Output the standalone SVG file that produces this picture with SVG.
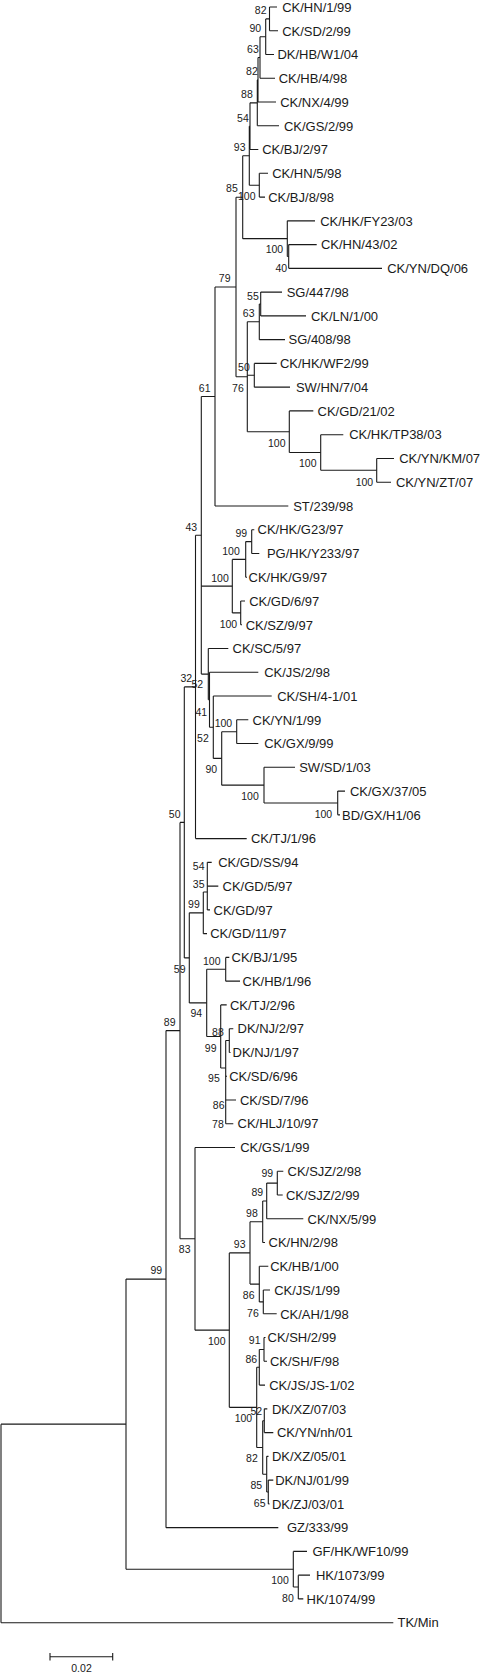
<svg xmlns="http://www.w3.org/2000/svg" width="481" height="1675" viewBox="0 0 481 1675">
<style>
.br{fill:none;stroke:#1a1a1a;stroke-width:1.1}
.lf{font-family:"Liberation Sans",Arial,sans-serif;font-size:13px;fill:#1a1a1a}
.bs{font-family:"Liberation Sans",Arial,sans-serif;font-size:10.5px;fill:#1a1a1a;text-anchor:end}
</style>
<rect width="481" height="1675" fill="#fff"/>
<g id="connectors" class="br">
<path d="M1 1424.15V1622.68M126 1279.1V1569.2M293.3 1551.4V1587.04M298.3 1575.16V1598.92M166 1030.6V1527.64M180 822.4V1238.8M195 1147.48V1330.13M229.3 1252.9V1407.36M250 1221.73V1284.1M262.7 1200.94V1242.52M266.7 1183.12V1218.76M277.3 1171.24V1195M259.3 1266.28V1301.92M263.3 1290.04V1313.8M256.7 1367.26V1447.45M259.3 1349.44V1385.08M264 1337.56V1361.32M262.7 1420.72V1474.18M264.3 1408.84V1432.6M266.7 1456.36V1492M268.3 1480.12V1503.88M184.3 686.9V957.9M189.3 912.85V1002.9M203.3 892.06V933.64M207.3 862.36V909.88M206.7 969.28V1036.5M225.7 957.4V981.16M220.7 1004.92V1068M225.7 1040.56V1123.72M229.3 1028.68V1052.44M195.5 535.3V838.6M201.3 396.5V674.1M208.3 648.52V699.7M209.5 672.28V727.2M213.3 696.04V758.41M221.7 731.68V785.14M236.7 719.8V743.56M264 767.32V802.96M337.7 791.08V814.84M232.3 559.42V612.88M245.7 541.6V577.24M251.7 529.72V553.48M240.7 601V624.76M215 287V505.96M236 197.2V376.8M247.3 321.82V431.71M259.3 304V339.64M260.7 292.12V315.88M254.3 363.4V387.16M289.3 410.92V452.5M320.7 434.68V470.32M376.7 458.44V482.2M242.7 155.7V238.66M287.3 220.84V256.48M288.7 244.6V268.36M249.3 126.2V185.2M259.3 173.32V197.08M250 102.85V149.56M257.3 79.9V125.8M258 57.49V102.04M260 36.7V78.28M265.7 18.88V54.52M269.5 7V30.76"/>
<path d="M1 1424.15H126M1 1622.68H393.3M126 1279.1H166M126 1569.2H293.3M293.3 1551.4H307M293.3 1587.04H298.3M298.3 1575.16H310M298.3 1598.92H303.3M166 1030.6H180M166 1527.64H278.3M180 822.4H184.3M180 1238.8H195M195 1147.48H235M195 1330.13H229.3M229.3 1252.9H250M229.3 1407.36H256.7M250 1221.73H262.7M250 1284.1H259.3M262.7 1200.94H266.7M262.7 1242.52H265M266.7 1183.12H277.3M266.7 1218.76H303.3M277.3 1171.24H283.3M277.3 1195H282.7M259.3 1266.28H268.3M259.3 1301.92H263.3M263.3 1290.04H270M263.3 1313.8H276.7M256.7 1367.26H259.3M256.7 1447.45H262.7M259.3 1349.44H264M259.3 1385.08H265M264 1337.56H265.5M264 1361.32H267M262.7 1420.72H264.3M262.7 1474.18H266.7M264.3 1408.84H267.3M264.3 1432.6H273.3M266.7 1456.36H268.5M266.7 1492H268.3M268.3 1480.12H273.3M268.3 1503.88H269.5M184.3 686.9H195.5M184.3 957.9H189.3M189.3 912.85H203.3M189.3 1002.9H206.7M203.3 892.06H207.3M203.3 933.64H207M207.3 862.36H211.7M207.3 886.12H218.3M207.3 909.88H210M206.7 969.28H225.7M206.7 1036.5H220.7M225.7 957.4H229.3M225.7 981.16H240M220.7 1004.92H226.7M220.7 1068H225.7M225.7 1040.56H229.3M225.7 1076.2H227M225.7 1099.96H236M225.7 1123.72H233.3M229.3 1028.68H233.3M229.3 1052.44H230.5M195.5 535.3H201.3M195.5 838.6H246.7M201.3 396.5H215M201.3 586.15H232.3M201.3 674.1H208.3M208.3 648.52H228.3M208.3 699.7H209.5M209.5 672.28H258.3M209.5 727.2H213.3M213.3 696.04H271.7M213.3 758.41H221.7M221.7 731.68H236.7M221.7 785.14H264M236.7 719.8H248.3M236.7 743.56H258.3M264 767.32H295M264 802.96H337.7M337.7 791.08H345M337.7 814.84H340M232.3 559.42H245.7M232.3 612.88H240.7M245.7 541.6H251.7M245.7 577.24H247M251.7 529.72H254.3M251.7 553.48H259.3M240.7 601H245M240.7 624.76H242M215 287H236M215 505.96H288.3M236 197.2H242.7M236 376.8H247.3M247.3 321.82H259.3M247.3 375.28H254.3M247.3 431.71H289.3M259.3 304H260.7M259.3 339.64H285M260.7 292.12H282M260.7 315.88H306M254.3 363.4H276.7M254.3 387.16H290M289.3 410.92H313.3M289.3 452.5H320.7M320.7 434.68H343.3M320.7 470.32H376.7M376.7 458.44H394M376.7 482.2H391M242.7 155.7H249.3M242.7 238.66H287.3M287.3 220.84H315M287.3 256.48H288.7M288.7 244.6H316.7M288.7 268.36H382M249.3 126.2H250M249.3 185.2H259.3M259.3 173.32H268M259.3 197.08H265M250 102.85H257.3M250 149.56H258.3M257.3 79.9H258M257.3 125.8H279M258 57.49H260M258 102.04H276M260 36.7H265.7M260 78.28H275M265.7 18.88H269.5M265.7 54.52H274M269.5 7H277M269.5 30.76H278"/>
</g>
<g id="leaves" class="lf">
<g id="leaf-1"><text x="282.2" y="11.7">CK/HN/1/99</text></g>
<g id="leaf-2"><text x="282.2" y="35.5">CK/SD/2/99</text></g>
<g id="leaf-3"><text x="277.4" y="59.2">DK/HB/W1/04</text></g>
<g id="leaf-4"><text x="278.7" y="83">CK/HB/4/98</text></g>
<g id="leaf-5"><text x="280.2" y="106.7">CK/NX/4/99</text></g>
<g id="leaf-6"><text x="283.9" y="130.5">CK/GS/2/99</text></g>
<g id="leaf-7"><text x="262.2" y="154.3">CK/BJ/2/97</text></g>
<g id="leaf-8"><text x="272.2" y="178">CK/HN/5/98</text></g>
<g id="leaf-9"><text x="268.2" y="201.8">CK/BJ/8/98</text></g>
<g id="leaf-10"><text x="320.2" y="225.5">CK/HK/FY23/03</text></g>
<g id="leaf-11"><text x="320.9" y="249.3">CK/HN/43/02</text></g>
<g id="leaf-12"><text x="387.2" y="273.1">CK/YN/DQ/06</text></g>
<g id="leaf-13"><text x="286.7" y="296.8">SG/447/98</text></g>
<g id="leaf-14"><text x="310.9" y="320.6">CK/LN/1/00</text></g>
<g id="leaf-15"><text x="288.5" y="344.3">SG/408/98</text></g>
<g id="leaf-16"><text x="279.9" y="368.1">CK/HK/WF2/99</text></g>
<g id="leaf-17"><text x="295.9" y="391.9">SW/HN/7/04</text></g>
<g id="leaf-18"><text x="317.5" y="415.6">CK/GD/21/02</text></g>
<g id="leaf-19"><text x="349.2" y="439.4">CK/HK/TP38/03</text></g>
<g id="leaf-20"><text x="399.2" y="463.1">CK/YN/KM/07</text></g>
<g id="leaf-21"><text x="395.9" y="486.9">CK/YN/ZT/07</text></g>
<g id="leaf-22"><text x="293.2" y="510.7">ST/239/98</text></g>
<g id="leaf-23"><text x="257.5" y="534.4">CK/HK/G23/97</text></g>
<g id="leaf-24"><text x="266.9" y="558.2">PG/HK/Y233/97</text></g>
<g id="leaf-25"><text x="248.5" y="581.9">CK/HK/G9/97</text></g>
<g id="leaf-26"><text x="249.2" y="605.7">CK/GD/6/97</text></g>
<g id="leaf-27"><text x="245.7" y="629.5">CK/SZ/9/97</text></g>
<g id="leaf-28"><text x="232.5" y="653.2">CK/SC/5/97</text></g>
<g id="leaf-29"><text x="264.2" y="677">CK/JS/2/98</text></g>
<g id="leaf-30"><text x="277.2" y="700.7">CK/SH/4-1/01</text></g>
<g id="leaf-31"><text x="252.5" y="724.5">CK/YN/1/99</text></g>
<g id="leaf-32"><text x="264.2" y="748.3">CK/GX/9/99</text></g>
<g id="leaf-33"><text x="299.2" y="772">SW/SD/1/03</text></g>
<g id="leaf-34"><text x="349.9" y="795.8">CK/GX/37/05</text></g>
<g id="leaf-35"><text x="342" y="819.5">BD/GX/H1/06</text></g>
<g id="leaf-36"><text x="250.9" y="843.3">CK/TJ/1/96</text></g>
<g id="leaf-37"><text x="218.2" y="867.1">CK/GD/SS/94</text></g>
<g id="leaf-38"><text x="222.5" y="890.8">CK/GD/5/97</text></g>
<g id="leaf-39"><text x="213.5" y="914.6">CK/GD/97</text></g>
<g id="leaf-40"><text x="210.2" y="938.3">CK/GD/11/97</text></g>
<g id="leaf-41"><text x="231.5" y="962.1">CK/BJ/1/95</text></g>
<g id="leaf-42"><text x="242.5" y="985.9">CK/HB/1/96</text></g>
<g id="leaf-43"><text x="229.9" y="1009.6">CK/TJ/2/96</text></g>
<g id="leaf-44"><text x="237.5" y="1033.4">DK/NJ/2/97</text></g>
<g id="leaf-45"><text x="232.5" y="1057.1">DK/NJ/1/97</text></g>
<g id="leaf-46"><text x="229.2" y="1080.9">CK/SD/6/96</text></g>
<g id="leaf-47"><text x="239.9" y="1104.7">CK/SD/7/96</text></g>
<g id="leaf-48"><text x="237.5" y="1128.4">CK/HLJ/10/97</text></g>
<g id="leaf-49"><text x="240.2" y="1152.2">CK/GS/1/99</text></g>
<g id="leaf-50"><text x="287.5" y="1175.9">CK/SJZ/2/98</text></g>
<g id="leaf-51"><text x="285.9" y="1199.7">CK/SJZ/2/99</text></g>
<g id="leaf-52"><text x="307.5" y="1223.5">CK/NX/5/99</text></g>
<g id="leaf-53"><text x="268.5" y="1247.2">CK/HN/2/98</text></g>
<g id="leaf-54"><text x="270.2" y="1271">CK/HB/1/00</text></g>
<g id="leaf-55"><text x="274.2" y="1294.7">CK/JS/1/99</text></g>
<g id="leaf-56"><text x="280.2" y="1318.5">CK/AH/1/98</text></g>
<g id="leaf-57"><text x="267.5" y="1342.3">CK/SH/2/99</text></g>
<g id="leaf-58"><text x="269.9" y="1366">CK/SH/F/98</text></g>
<g id="leaf-59"><text x="269.2" y="1389.8">CK/JS/JS-1/02</text></g>
<g id="leaf-60"><text x="271.9" y="1413.5">DK/XZ/07/03</text></g>
<g id="leaf-61"><text x="276.9" y="1437.3">CK/YN/nh/01</text></g>
<g id="leaf-62"><text x="271.9" y="1461.1">DK/XZ/05/01</text></g>
<g id="leaf-63"><text x="275.2" y="1484.8">DK/NJ/01/99</text></g>
<g id="leaf-64"><text x="271.9" y="1508.6">DK/ZJ/03/01</text></g>
<g id="leaf-65"><text x="286.9" y="1532.3">GZ/333/99</text></g>
<g id="leaf-66"><text x="312.5" y="1556.1">GF/HK/WF10/99</text></g>
<g id="leaf-67"><text x="315.9" y="1579.9">HK/1073/99</text></g>
<g id="leaf-68"><text x="306.5" y="1603.6">HK/1074/99</text></g>
<g id="leaf-69"><text x="397.5" y="1627.4">TK/Min</text></g>
</g>
<g id="bootstrap" class="bs">
<text x="266.5" y="13.8">82</text>
<text x="261.2" y="31.8">90</text>
<text x="258.8" y="52.8">63</text>
<text x="257.8" y="74.8">82</text>
<text x="252.8" y="97.8">88</text>
<text x="248.8" y="121.8">54</text>
<text x="245.5" y="150.5">93</text>
<text x="237.8" y="192.1">85</text>
<text x="255.5" y="199.8">100</text>
<text x="283.2" y="253.1">100</text>
<text x="287.2" y="271.5">40</text>
<text x="230.5" y="281.5">79</text>
<text x="258.8" y="299.5">55</text>
<text x="254.5" y="317.1">63</text>
<text x="249.8" y="370.5">50</text>
<text x="210.5" y="391.5">61</text>
<text x="243.8" y="391.5">76</text>
<text x="285.5" y="447.1">100</text>
<text x="316.5" y="467.1">100</text>
<text x="373.2" y="485.5">100</text>
<text x="197.2" y="530.5">43</text>
<text x="247.2" y="536.5">99</text>
<text x="239.8" y="554.8">100</text>
<text x="228.8" y="581.5">100</text>
<text x="237.2" y="627.8">100</text>
<text x="192.2" y="681.5">32</text>
<text x="203.2" y="688.1">52</text>
<text x="207.2" y="715.5">41</text>
<text x="232.2" y="727.1">100</text>
<text x="208.8" y="742.1">52</text>
<text x="217.2" y="773.1">90</text>
<text x="258.8" y="799.8">100</text>
<text x="332.2" y="818.1">100</text>
<text x="180.5" y="818.1">50</text>
<text x="204.5" y="869.8">54</text>
<text x="204.5" y="887.8">35</text>
<text x="199.8" y="908.1">99</text>
<text x="220.5" y="964.5">100</text>
<text x="185.5" y="972.8">59</text>
<text x="202.2" y="1017.1">94</text>
<text x="175.5" y="1025.5">89</text>
<text x="223.8" y="1035.5">88</text>
<text x="216.5" y="1052.1">99</text>
<text x="219.8" y="1082.1">95</text>
<text x="224.5" y="1108.8">86</text>
<text x="223.8" y="1127.8">78</text>
<text x="273.2" y="1177.1">99</text>
<text x="263.2" y="1195.5">89</text>
<text x="257.8" y="1217.1">98</text>
<text x="245.5" y="1248.1">93</text>
<text x="190.5" y="1253.1">83</text>
<text x="162.2" y="1273.8">99</text>
<text x="254.5" y="1298.8">86</text>
<text x="258.8" y="1316.5">76</text>
<text x="260.5" y="1343.8">91</text>
<text x="225.5" y="1344.8">100</text>
<text x="257.2" y="1363.1">86</text>
<text x="262.2" y="1414.8">52</text>
<text x="252.2" y="1422.1">100</text>
<text x="257.8" y="1462.1">82</text>
<text x="262.2" y="1488.8">85</text>
<text x="265.5" y="1506.5">65</text>
<text x="288.8" y="1583.8">100</text>
<text x="293.8" y="1602.1">80</text>
</g>
<g id="scale-bar">
<path class="br" d="M50 1656.7H112.7M50 1653V1660.5M112.7 1653V1660.5"/>
<text x="81.5" y="1671.5" style="font-family:'Liberation Sans',Arial,sans-serif;font-size:10.5px;fill:#1a1a1a;text-anchor:middle">0.02</text>
</g>
</svg>
